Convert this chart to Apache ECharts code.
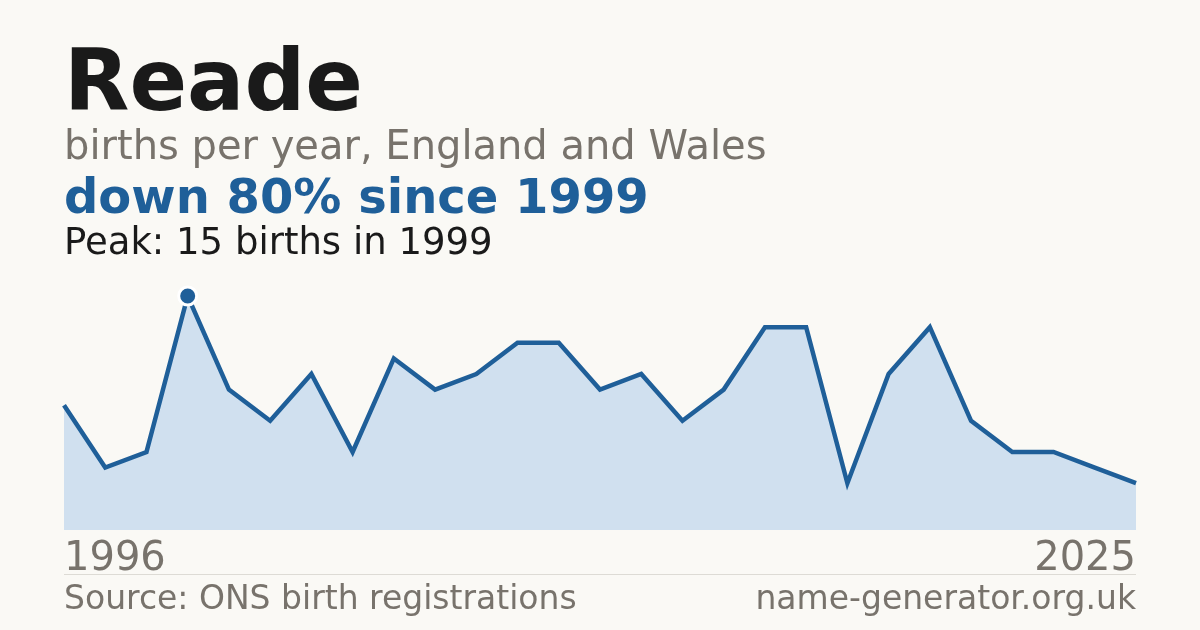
<!DOCTYPE html>
<html><head><meta charset="utf-8">
<script src="https://cdn.jsdelivr.net/npm/echarts@6/dist/echarts.min.js"></script>
<style>html,body{margin:0;padding:0;background:#faf9f5;}#c{width:1200px;height:630px;}</style>
</head><body><div id="c"></div>
<script>
const years = [1996,1997,1998,1999,2000,2001,2002,2003,2004,2005,2006,2007,2008,2009,2010,2011,2012,2014,2015,2016,2018,2019,2020,2022,2023,2024,2025];
const births = [8,4,5,15,9,7,10,5,11,9,10,12,12,9,10,7,9,13,13,3,10,13,7,5,5,4,3];
const titleText = 'Reade';
const subtitleText = 'births per year, England and Wales';
const changeText = 'down 80% since 1999';
const peakText = 'Peak: 15 births in 1999';
const sourceText = 'Source: ONS birth registrations';
const siteText = 'name-generator.org.uk';

const peakIdx = births.indexOf(Math.max(...births));
const F = 'DejaVu Sans';
const grey = '#78736c';
const blue = '#1f5f99';

const chart = echarts.init(document.getElementById('c'), null, {renderer:'canvas'});
chart.setOption({
  backgroundColor: '#faf9f5',
  animation: false,
  grid: {left: 64, right: 64, top: 296, bottom: 100},
  xAxis: {
    type: 'category', data: years.map(String), boundaryGap: false,
    axisLine: {show: false}, axisTick: {show: false}, splitLine: {show: false},
    axisLabel: {
      interval: (i) => i === 0 || i === years.length - 1,
      fontFamily: F, fontSize: 40, color: grey, margin: 10,
      verticalAlign: 'top', alignMinLabel: 'left', alignMaxLabel: 'right'
    }
  },
  yAxis: {type: 'value', min: 0, max: 15, show: false, splitLine: {show: false}},
  series: [
    {
      type: 'line', data: births, symbol: 'none',
      lineStyle: {color: blue, width: 4.5, join: 'miter'},
      areaStyle: {color: '#d0e0ef', opacity: 1},
      z: 2
    },
    {
      type: 'scatter', data: [[peakIdx, births[peakIdx]]],
      symbol: 'circle', symbolSize: 18,
      itemStyle: {color: blue, borderColor: '#ffffff', borderWidth: 3, opacity: 1},
      z: 5
    }
  ],
  graphic: [
    {type: 'text', x: 64, y: 45, style: {text: titleText, fontFamily: F, fontSize: 85, fontWeight: 'bold', fill: '#1a1a1a', verticalAlign: 'top'}},
    {type: 'text', x: 64, y: 129, style: {text: subtitleText, fontFamily: F, fontSize: 40, fill: grey, verticalAlign: 'top'}},
    {type: 'text', x: 64, y: 177, style: {text: changeText, fontFamily: F, fontSize: 48, fontWeight: 'bold', fill: blue, verticalAlign: 'top'}},
    {type: 'text', x: 64, y: 226, style: {text: peakText, fontFamily: F, fontSize: 37, fill: '#1a1a1a', verticalAlign: 'top'}},
    {type: 'line', shape: {x1: 64, y1: 574.5, x2: 1136, y2: 574.5}, style: {stroke: '#dddbd5', lineWidth: 1}},
    {type: 'text', x: 64, y: 584, style: {text: sourceText, fontFamily: F, fontSize: 33, fill: grey, verticalAlign: 'top'}},
    {type: 'text', x: 1136, y: 584, style: {text: siteText, fontFamily: F, fontSize: 33, fill: grey, verticalAlign: 'top', align: 'right'}}
  ]
});
</script></body></html>
